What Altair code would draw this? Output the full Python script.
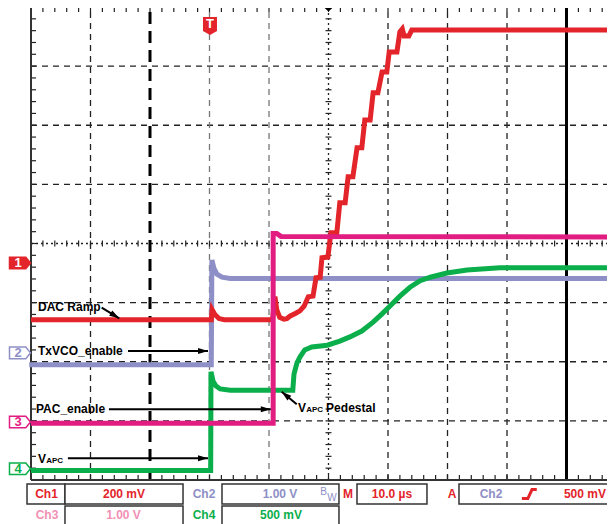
import altair as alt
import pandas as pd

# ---------------- Trace data: time in µs from the left graticule edge (10 µs/div),
# level in divisions above the bottom graticule line ----------------
dac_ramp = [  # Ch1, red
    (0.0, 2.71), (30.3, 2.71), (30.45, 2.88), (30.9, 2.80), (31.6, 2.73), (32.5, 2.71),
    (40.6, 2.71), (41.0, 3.10), (41.3, 2.88), (41.8, 2.75), (42.5, 2.72), (43.0, 2.73),
    (43.5, 2.77), (44.5, 2.82), (45.2, 2.86), (45.9, 2.94), (46.6, 3.10), (47.4, 3.11),
    (47.9, 3.42), (48.6, 3.43), (48.9, 3.76), (49.9, 3.77), (50.4, 4.18), (51.4, 4.18),
    (51.9, 4.69), (52.8, 4.69), (53.3, 5.13), (54.1, 5.13), (54.8, 5.62), (55.6, 5.62),
    (56.1, 6.09), (57.0, 6.09), (57.5, 6.55), (58.3, 6.55), (59.0, 6.90), (59.8, 6.90),
    (60.2, 7.24), (61.5, 7.24), (62.0, 7.58), (62.4, 7.63), (62.7, 7.51), (63.5, 7.51),
    (64.0, 7.61), (100.0, 7.61),
]
txvco_enable = [  # Ch2, lavender
    (-0.3, 1.95), (30.3, 1.95), (30.4, 3.72), (30.75, 3.58), (31.25, 3.48),
    (32.1, 3.43), (33.5, 3.41), (100.0, 3.41),
]
vapc = [  # Ch4, green
    (0.0, 0.16), (30.2, 0.16), (30.25, 1.83), (30.6, 1.67), (31.1, 1.59), (31.8, 1.54),
    (33.5, 1.52), (44.0, 1.52), (44.2, 1.79), (44.7, 1.98), (45.2, 2.08), (46.0, 2.20),
    (47.2, 2.25), (49.8, 2.28), (51.9, 2.35), (53.6, 2.42), (55.6, 2.52), (57.5, 2.67),
    (59.0, 2.81), (60.3, 2.94), (62.0, 3.11), (63.7, 3.26), (65.4, 3.37), (67.1, 3.43),
    (69.9, 3.50), (73.3, 3.55), (78.8, 3.59), (100.0, 3.59),
]
pac_enable = [  # Ch3, magenta
    (0.0, 0.96), (40.7, 0.96), (40.7, 4.17), (41.3, 4.17), (42.0, 4.12), (100.0, 4.11),
]

# Graticule
grid_h_dashed = [1, 2, 3, 5, 6, 7]
grid_v_dark = [10, 60, 70, 80]
grid_v_grey = [30, 40]
center_t, center_v = 50, 4
cursor_dashed_t = 20
cursor_solid_t = 90

# Annotation labels (text, t, v, font size)
labels = [
    ("DAC Ramp", 1.18, 2.85, 12), ("TxVCO_enable", 1.18, 2.114, 12),
    ("PAC_enable", 0.84, 1.133, 12), ("V", 1.18, 0.2875, 12), ("APC", 2.55, 0.2875, 8),
    ("V", 44.87, 1.142, 12), ("APC", 46.25, 1.142, 8), ("Pedestal", 49.6, 1.142, 12),
]
# Arrows (t1, v1, t2 tip, v2 tip, head angle)
arrows = [
    (11.88, 2.914, 14.84, 2.735, 31), (16.3, 2.182, 29.75, 2.182, 0),
    (13.1, 1.196, 40.3, 1.196, 0), (6.2, 0.367, 29.75, 0.367, 0),
    (44.66, 1.28, 42.13, 1.493, 220),
]

RED, PURPLE, GREEN, PINK = "#e3242b", "#8e8fc6", "#0aae4a", "#e21d82"
PINK_LIGHT = "#f290b4"

channels = ["1", "2", "3", "4"]
channel_levels = [3.67, 2.15, 0.98, 0.19]
channel_fill = [RED, "white", "white", "white"]
channel_stroke = [RED, PURPLE, PINK, GREEN]
channel_text = ["white", PURPLE, PINK, GREEN]

# Readout bar
readout_boxes = [  # t1, t2, v1, v2
    (-0.67, 5.71, -0.068, -0.406), (5.71, 25.55, -0.068, -0.406),
    (32.10, 51.76, -0.068, -0.406), (54.79, 66.55, -0.068, -0.406),
    (71.93, 102.4, -0.068, -0.406),
    (5.71, 25.55, -0.44, -1.015), (32.10, 51.76, -0.44, -1.015),
]
readout_text = [
    ("Ch1", 2.61, -0.237, RED), ("200 mV", 15.63, -0.237, RED),
    ("Ch2", 29.08, -0.237, PURPLE), ("1.00 V", 41.85, -0.237, PURPLE),
    ("M", 53.28, -0.237, RED), ("10.0 µs", 60.67, -0.237, RED),
    ("A", 70.76, -0.237, RED), ("Ch2", 77.31, -0.237, PURPLE),
    ("500 mV", 93.1, -0.237, RED),
    ("Ch3", 2.69, -0.592, PINK_LIGHT), ("1.00 V", 15.55, -0.592, PINK_LIGHT),
    ("Ch4", 29.08, -0.592, GREEN), ("500 mV", 42.02, -0.592, GREEN),
]
bw_text = [("B", 49.16, -0.211), ("W", 50.59, -0.296)]
edge_symbol = [(82.5, -0.313), (83.5, -0.313), (84.2, -0.161), (85.0, -0.161)]

# ---------------- Layout (page pixels -> scale domain) ----------------
W, H = 599, 516
MARGIN = 8
GRID_LEFT_PX, GRID_BOTTOM_PX = 31, 480
PX_PER_US, PX_PER_DIV = 5.95, 59.125
XMIN = (MARGIN - GRID_LEFT_PX) / PX_PER_US
XMAX = XMIN + W / PX_PER_US
YMAX = (GRID_BOTTOM_PX - MARGIN) / PX_PER_DIV
YMIN = YMAX - H / PX_PER_DIV

xs = alt.Scale(domain=[XMIN, XMAX], nice=False, zero=False)
ys = alt.Scale(domain=[YMIN, YMAX], nice=False, zero=False)


def X(f="t"):
    return alt.X(f"{f}:Q", scale=xs, axis=None)


def Y(f="v"):
    return alt.Y(f"{f}:Q", scale=ys, axis=None)


def rules(df, **kw):
    enc = dict(x=X("t"), y=Y("v"))
    if "t2" in df:
        enc["x2"] = alt.X2("t2:Q")
    if "v2" in df:
        enc["y2"] = alt.Y2("v2:Q")
    return alt.Chart(df).mark_rule(**kw).encode(**enc)


def trace(pts, color):
    df = pd.DataFrame(pts, columns=["t", "v"])
    df["i"] = range(len(df))
    return alt.Chart(df).mark_line(color=color, strokeWidth=5, strokeJoin="miter",
                                   strokeCap="butt").encode(
        x=X(), y=Y(), order=alt.Order("i:Q"))


layers = []
TOP = 8.0
# grid
layers.append(rules(pd.DataFrame({"t": 0.0, "t2": XMAX + 2, "v": grid_h_dashed}),
                    color="#222", strokeWidth=1.3, strokeDash=[6, 5]))
layers.append(rules(pd.DataFrame({"t": grid_v_dark, "v": 0.0, "v2": TOP}),
                    color="#222", strokeWidth=1.3, strokeDash=[6, 5]))
layers.append(rules(pd.DataFrame({"t": grid_v_grey, "v": 0.0, "v2": TOP}),
                    color="#777", strokeWidth=1.3, strokeDash=[6, 5]))
layers.append(rules(pd.DataFrame({"t": [0.0], "t2": [XMAX + 2], "v": [center_v]}),
                    color="#222", strokeWidth=1.3, strokeDash=[2, 3]))
layers.append(rules(pd.DataFrame({"t": [center_t], "v": [0.0], "v2": [TOP]}),
                    color="#222", strokeWidth=1.3, strokeDash=[2, 3]))
# minor ticks
tick_rows = []
minor_v = [round(0.2 * i, 2) for i in range(1, 40)]
minor_t = [2 * i for i in range(1, 50)]
for v in minor_v:
    tick_rows.append((0.0, 0.84, v, v))
    tick_rows.append((center_t - 0.5, center_t + 0.5, v, v))
for t in minor_t:
    tick_rows.append((t, t, TOP, TOP - 0.085))
    tick_rows.append((t, t, 0.0, 0.085))
    tick_rows.append((t, t, center_v - 0.05, center_v + 0.05))
ticks = pd.DataFrame(tick_rows, columns=["t", "t2", "v", "v2"])
layers.append(rules(ticks, color="#222", strokeWidth=1.2))
# cursors
layers.append(rules(pd.DataFrame({"t": [cursor_dashed_t], "v": [0.0], "v2": [TOP]}),
                    color="black", strokeWidth=3, strokeDash=[12, 7]))
layers.append(rules(pd.DataFrame({"t": [cursor_solid_t], "v": [0.0], "v2": [TOP]}),
                    color="black", strokeWidth=3))
# frame
layers.append(rules(pd.DataFrame({"t": [0.0], "v": [0.0], "v2": [TOP]}),
                    color="#333", strokeWidth=2))
layers.append(rules(pd.DataFrame({"t": [0.0, 0.0], "t2": [XMAX + 2] * 2, "v": [0.0, TOP]}),
                    color="#333", strokeWidth=2))

# traces
layers.append(trace(txvco_enable, PURPLE))
layers.append(trace(dac_ramp, RED))
layers.append(trace(vapc, GREEN))
layers.append(trace(pac_enable, PINK))

# arrows
adf = pd.DataFrame(arrows, columns=["t", "v", "t2", "v2", "a"])
layers.append(rules(adf[["t", "v", "t2", "v2"]], color="black", strokeWidth=2))
layers.append(alt.Chart(adf).mark_point(
    shape="M0,0 L-2,-0.6 L-2,0.6 Z", size=100, filled=True, opacity=1,
    color="black", strokeWidth=0).encode(
    x=X("t2"), y=Y("v2"), angle=alt.Angle("a:Q", scale=None)))

# labels
ldf = pd.DataFrame(labels, columns=["text", "t", "v", "fs"])
layers.append(alt.Chart(ldf).mark_text(
    align="left", baseline="alphabetic", fontWeight="bold", font="Liberation Sans",
    color="black").encode(x=X(), y=Y(), text="text:N",
                          size=alt.Size("fs:Q", scale=None)))

# channel markers
cdf = pd.DataFrame({"t": -1.85, "v": channel_levels, "f": channel_fill,
                    "s": channel_stroke, "c": channel_text, "text": channels})
layers.append(alt.Chart(cdf).mark_point(
    shape="M-1,-0.55 L0.55,-0.55 L1,0 L0.55,0.55 L-1,0.55 Z", size=441,
    filled=True, opacity=1, strokeWidth=1.5).encode(
    x=X(), y=Y(), fill=alt.Fill("f:N", scale=None),
    stroke=alt.Stroke("s:N", scale=None)))
cdf["tt"] = -2.18
layers.append(alt.Chart(cdf).mark_text(
    fontSize=13, fontWeight="bold", font="Liberation Sans", align="center",
    baseline="middle").encode(x=X("tt"), y=Y(), text="text:N",
                              color=alt.Color("c:N", scale=None)))

# trigger position marker
tdf = pd.DataFrame({"t": [30.08], "v": [7.68], "text": ["T"]})
layers.append(alt.Chart(tdf).mark_point(
    shape="M-0.7,-0.9 L0.7,-0.9 L0.7,0.5 L0,0.9 L-0.7,0.5 Z", size=400,
    filled=True, opacity=1, color=RED, strokeWidth=0).encode(x=X(), y=Y()))
layers.append(alt.Chart(tdf).mark_text(
    fontSize=13, fontWeight="bold", font="Liberation Sans", color="white",
    baseline="middle", dy=-2).encode(x=X(), y=Y(), text="text:N"))
# centre marker at top and trigger level marker at right
layers.append(alt.Chart(pd.DataFrame({"t": [center_t], "v": [TOP]})).mark_point(
    shape="M-1,0 L1,0 L0,0.9 Z", size=100, filled=True, opacity=1,
    color="black", strokeWidth=0).encode(x=X(), y=Y()))
layers.append(alt.Chart(pd.DataFrame({"t": [96.97], "v": [2.613]})).mark_point(
    shape="M0,0 L1.6,-1 L1.6,1 Z", size=256, filled=True, opacity=1,
    color="black", strokeWidth=0).encode(x=X(), y=Y()))

# readout bar
bdf = pd.DataFrame(readout_boxes, columns=["t", "t2", "v", "v2"])
layers.append(alt.Chart(bdf).mark_rect(fill="white", stroke="#333", strokeWidth=1.5).encode(
    x=X(), x2="t2:Q", y=Y(), y2="v2:Q"))
rdf = pd.DataFrame(readout_text, columns=["text", "t", "v", "c"])
layers.append(alt.Chart(rdf).mark_text(
    fontSize=12, fontWeight="bold", font="Liberation Sans", align="center",
    baseline="middle").encode(x=X(), y=Y(), text="text:N",
                              color=alt.Color("c:N", scale=None)))
bwdf = pd.DataFrame(bw_text, columns=["text", "t", "v"])
layers.append(alt.Chart(bwdf).mark_text(
    fontSize=10, font="Liberation Sans", align="center", baseline="middle",
    color=PURPLE).encode(x=X(), y=Y(), text="text:N"))
edf = pd.DataFrame(edge_symbol, columns=["t", "v"])
edf["i"] = range(len(edf))
layers.append(alt.Chart(edf).mark_line(color=RED, strokeWidth=3).encode(
    x=X(), y=Y(), order=alt.Order("i:Q")))

chart = alt.layer(*layers).properties(
    width=W, height=H, autosize=alt.AutoSizeParams(type="none"), padding=0,
    background="white",
).configure_view(stroke=None)

chart.save("out.html", embed_options={"renderer": "svg", "actions": False})
